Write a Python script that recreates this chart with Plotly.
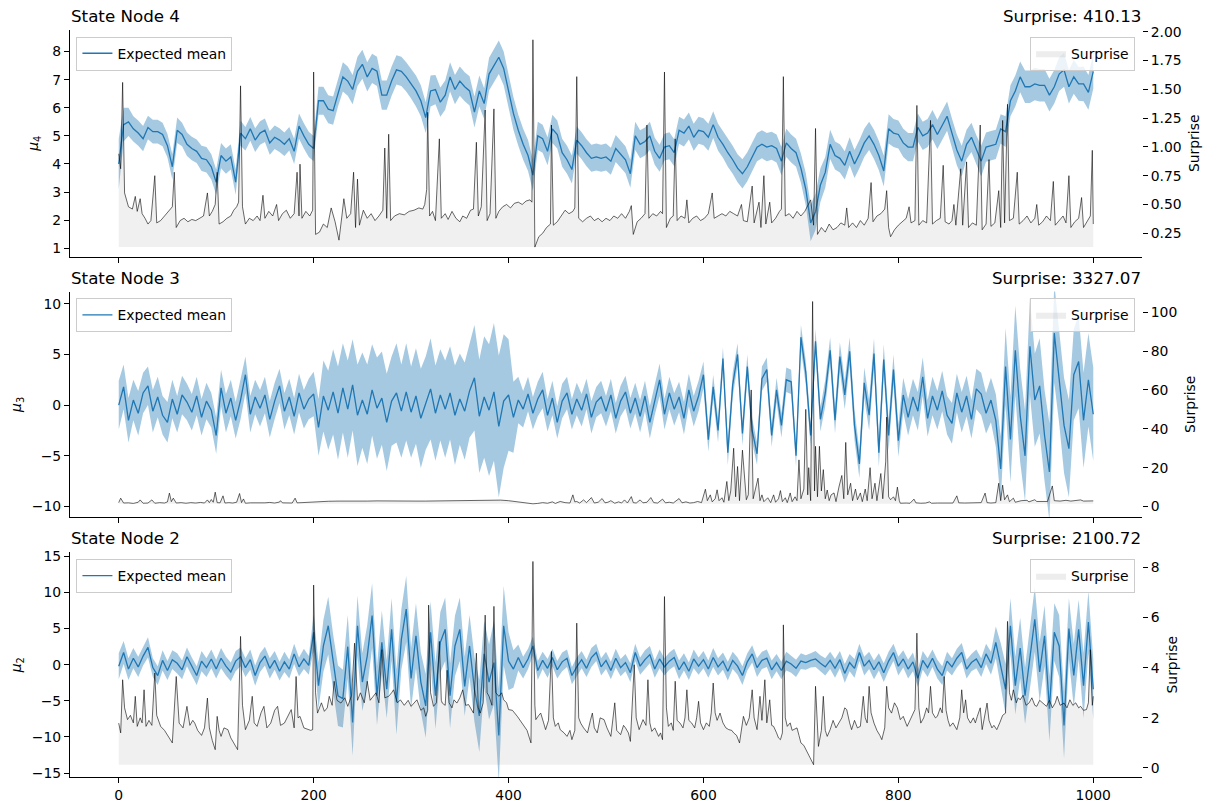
import numpy as np
import plotly.graph_objects as go
from plotly.subplots import make_subplots

steps = list(range(0, 1001, 5))

# ---- State Node 4 ----
node4_mean = [
    4.0, 5.4, 5.5, 5.25, 5.1, 4.9, 5.3, 5.15, 5.15, 5.05,
    4.65, 3.9, 5.2, 5.05, 4.7, 4.55, 4.45, 4.2, 4.15, 3.9,
    3.35, 4.3, 4.1, 4.25, 3.35, 5.1, 4.9, 5.25, 4.85, 5.1,
    5.2, 4.75, 4.95, 4.85, 4.7, 4.9, 4.45, 5.35, 5.0, 4.7,
    4.55, 6.25, 6.25, 5.95, 5.9, 6.55, 7.1, 6.95, 6.65, 7.3,
    7.55, 7.1, 7.4, 7.3, 6.45, 6.45, 6.95, 7.35, 7.3, 7.1,
    6.85, 6.6, 6.25, 5.65, 6.6, 6.65, 6.2, 6.45, 7.1, 6.65,
    6.95, 6.75, 6.6, 5.85, 6.6, 6.15, 7.2, 7.5, 7.8, 7.4,
    6.6, 5.8, 5.2, 4.7, 4.3, 3.6, 5.0, 4.9, 4.45, 5.25,
    5.05, 4.4, 4.15, 3.8, 4.85, 4.65, 4.4, 4.2, 4.25, 4.2,
    4.25, 4.1, 4.55, 4.35, 4.15, 3.65, 5.0, 4.7, 4.8, 5.0,
    4.45, 4.2, 4.6, 4.65, 4.4, 5.2, 5.1, 5.35, 4.95, 5.2,
    5.15, 4.95, 5.4, 4.95, 4.7, 4.4, 4.15, 3.85, 3.65, 3.9,
    4.25, 4.6, 4.7, 4.6, 4.65, 4.55, 4.1, 4.75, 4.55, 4.4,
    3.85, 3.1, 1.9, 2.3, 3.25, 3.7, 4.7, 4.3, 4.2, 3.95,
    4.45, 4.0, 4.35, 4.75, 5.0, 4.7, 4.3, 3.75, 5.25, 5.1,
    5.05, 4.75, 4.6, 4.6, 5.3, 5.0, 5.1, 5.4, 5.05, 5.4,
    5.7, 5.1, 4.5, 4.1, 4.7, 4.95, 4.5, 4.1, 4.6, 4.65,
    4.7, 5.25, 5.15, 6.25, 6.6, 7.1, 6.75, 6.75, 6.85, 6.8,
    6.8, 6.45, 6.75, 7.2, 7.35, 6.75, 7.1, 6.85, 6.85, 6.55,
    7.3,
]
node4_sd = [
    0.9, 0.6, 0.5, 0.45, 0.45, 0.45, 0.42, 0.42, 0.42, 0.42,
    0.42, 0.45, 0.45, 0.42, 0.42, 0.42, 0.42, 0.45, 0.45, 0.45,
    0.45, 0.45, 0.45, 0.45, 0.45, 0.45, 0.42, 0.42, 0.42, 0.42,
    0.42, 0.42, 0.42, 0.42, 0.42, 0.42, 0.45, 0.45, 0.45, 0.45,
    0.45, 0.5, 0.5, 0.5, 0.5, 0.5, 0.52, 0.52, 0.52, 0.52,
    0.52, 0.52, 0.52, 0.52, 0.52, 0.52, 0.52, 0.52, 0.52, 0.52,
    0.52, 0.55, 0.55, 0.55, 0.55, 0.52, 0.52, 0.52, 0.52, 0.52,
    0.52, 0.52, 0.52, 0.55, 0.55, 0.55, 0.58, 0.58, 0.6, 0.6,
    0.6, 0.58, 0.55, 0.55, 0.55, 0.55, 0.5, 0.5, 0.5, 0.5,
    0.5, 0.5, 0.5, 0.5, 0.48, 0.48, 0.48, 0.48, 0.48, 0.48,
    0.48, 0.48, 0.48, 0.48, 0.48, 0.5, 0.5, 0.5, 0.5, 0.5,
    0.48, 0.48, 0.48, 0.48, 0.48, 0.48, 0.48, 0.48, 0.48, 0.48,
    0.48, 0.48, 0.48, 0.48, 0.48, 0.5, 0.5, 0.5, 0.52, 0.52,
    0.5, 0.5, 0.5, 0.5, 0.5, 0.5, 0.5, 0.5, 0.5, 0.5,
    0.52, 0.58, 0.65, 0.65, 0.6, 0.55, 0.52, 0.5, 0.5, 0.5,
    0.5, 0.5, 0.5, 0.5, 0.5, 0.52, 0.52, 0.55, 0.52, 0.5,
    0.5, 0.5, 0.5, 0.5, 0.5, 0.5, 0.5, 0.52, 0.52, 0.52,
    0.52, 0.52, 0.55, 0.55, 0.52, 0.52, 0.52, 0.55, 0.52, 0.52,
    0.52, 0.52, 0.55, 0.55, 0.55, 0.55, 0.58, 0.58, 0.58, 0.58,
    0.58, 0.58, 0.6, 0.6, 0.6, 0.6, 0.6, 0.6, 0.62, 0.62,
    0.62,
]
# (trial, surprise), spikes included
node4_surprise = [
    (0, 0.94), (2, 0.81), (4, 1.56), (6, 0.60), (10, 0.48), (14, 0.46), (17, 0.57), (19, 0.44),
    (22, 0.55), (24, 0.42), (27, 0.38), (30, 0.33), (33, 0.36), (37, 0.75), (39, 0.34), (43, 0.36),
    (47, 0.40), (51, 0.44), (55, 0.48), (57, 0.78), (59, 0.30), (63, 0.36), (67, 0.38), (71, 0.35),
    (75, 0.37), (79, 0.36), (83, 0.38), (87, 0.40), (91, 0.60), (93, 0.40), (96, 0.44), (99, 0.50),
    (101, 0.78), (103, 0.33), (107, 0.35), (111, 0.38), (115, 0.40), (118, 0.45), (121, 0.48),
    (123, 0.52), (125, 1.53), (127, 0.48), (130, 0.33), (134, 0.38), (138, 0.36), (142, 0.40),
    (145, 0.36), (148, 0.58), (150, 0.38), (154, 0.44), (158, 0.40), (162, 0.50), (164, 0.36),
    (168, 0.42), (172, 0.45), (176, 0.38), (180, 0.42), (183, 0.78), (185, 0.40), (186, 0.85),
    (188, 0.38), (192, 0.44), (196, 0.40), (199, 0.45), (200, 1.65), (202, 0.24), (206, 0.26),
    (210, 0.33), (214, 0.30), (218, 0.47), (222, 0.35), (226, 0.19), (229, 0.40), (231, 0.55),
    (234, 0.38), (238, 0.42), (241, 0.78), (243, 0.30), (245, 0.72), (247, 0.32), (251, 0.45),
    (255, 0.38), (259, 0.42), (263, 0.36), (267, 0.40), (271, 0.45), (273, 0.99), (275, 0.38),
    (277, 1.11), (279, 0.36), (283, 0.40), (288, 0.42), (293, 0.41), (298, 0.44), (303, 0.45),
    (308, 0.47), (312, 0.46), (314, 0.50), (316, 0.63), (317, 1.30), (319, 0.40), (322, 0.44),
    (325, 0.36), (329, 1.07), (331, 0.38), (335, 0.42), (338, 0.37), (342, 0.44), (346, 0.38),
    (350, 0.35), (353, 0.40), (357, 0.38), (361, 0.45), (364, 0.46), (367, 1.04), (369, 0.40),
    (372, 0.48), (376, 1.32), (378, 0.36), (381, 0.42), (385, 1.33), (387, 0.38), (390, 0.44),
    (394, 0.48), (398, 0.50), (402, 0.47), (406, 0.51), (410, 0.52), (414, 0.50), (418, 0.53),
    (422, 0.54), (424, 0.52), (425, 1.93), (427, 0.13), (431, 0.22), (435, 0.25), (439, 0.30),
    (443, 0.33), (444, 1.19), (446, 0.32), (450, 0.35), (454, 0.40), (458, 0.45), (462, 0.42),
    (466, 0.44), (468, 0.47), (470, 1.61), (472, 0.38), (476, 0.35), (480, 0.38), (484, 0.40),
    (488, 0.36), (492, 0.38), (496, 0.35), (500, 0.38), (504, 0.36), (508, 0.40), (512, 0.38),
    (516, 0.42), (520, 0.38), (524, 0.44), (526, 0.49), (528, 0.24), (532, 0.35), (536, 0.38),
    (540, 0.42), (542, 1.19), (544, 0.38), (548, 0.42), (552, 0.40), (556, 0.44), (558, 0.42),
    (560, 1.65), (562, 0.30), (566, 0.38), (569, 0.40), (571, 1.07), (573, 0.36), (577, 0.40),
    (581, 0.38), (583, 0.54), (585, 0.34), (589, 0.38), (593, 0.40), (597, 0.36), (601, 0.38),
    (605, 0.42), (609, 0.60), (611, 0.38), (615, 0.40), (619, 0.42), (623, 0.40), (627, 0.44),
    (631, 0.42), (635, 0.40), (639, 0.50), (641, 0.36), (645, 0.35), (650, 0.66), (652, 0.34),
    (657, 0.52), (659, 0.30), (662, 0.75), (664, 0.33), (668, 0.52), (670, 0.34), (674, 0.38),
    (678, 0.44), (680, 0.46), (682, 1.61), (684, 0.40), (688, 0.42), (692, 0.38), (696, 0.44),
    (700, 0.40), (704, 0.44), (708, 0.50), (710, 0.54), (713, 0.32), (715, 1.16), (717, 0.24),
    (721, 0.30), (725, 0.26), (729, 0.33), (733, 0.28), (737, 0.30), (741, 0.34), (745, 0.32),
    (747, 0.47), (749, 0.30), (753, 0.34), (757, 0.30), (761, 0.36), (765, 0.32), (769, 0.38),
    (772, 0.69), (774, 0.35), (778, 0.40), (782, 0.42), (786, 0.46), (788, 0.62), (790, 0.30),
    (792, 0.22), (796, 0.28), (800, 0.32), (804, 0.35), (808, 0.38), (811, 0.48), (813, 0.34),
    (817, 0.36), (819, 1.36), (821, 0.32), (825, 0.36), (829, 0.34), (833, 1.23), (835, 0.33),
    (839, 0.36), (843, 0.38), (846, 0.84), (848, 0.35), (852, 0.33), (855, 0.36), (857, 0.50),
    (859, 0.32), (864, 0.81), (866, 0.32), (870, 0.87), (872, 0.30), (876, 0.34), (880, 0.32),
    (884, 1.19), (886, 0.28), (890, 0.33), (893, 0.89), (895, 0.31), (899, 0.34), (903, 0.62),
    (905, 0.30), (907, 1.23), (909, 0.34), (912, 1.37), (914, 0.36), (918, 0.38), (922, 0.78),
    (924, 0.33), (928, 0.36), (932, 0.40), (936, 0.34), (940, 0.38), (942, 0.50), (944, 0.32),
    (948, 0.35), (952, 0.40), (956, 0.36), (959, 0.70), (961, 0.32), (965, 0.36), (969, 0.40),
    (972, 0.34), (975, 0.75), (977, 0.30), (981, 0.35), (985, 0.38), (988, 0.56), (990, 0.30),
    (994, 0.36), (997, 0.40), (999, 0.97), (1000, 0.33),
]

# ---- State Node 3 ----
node3_mean = [
    0.0, 1.8, -1.5, 0.5, -0.8, 1.2, 1.9, -0.6, 0.8, -1.0,
    -1.7, 0.6, -0.9, 1.0, 0.3, -0.7, 0.9, -1.2, 0.4, -0.5,
    -3.0, 1.7, -0.8, 0.7, -1.5, 0.5, 3.0, -0.9, 0.8, -0.3,
    1.0, -1.4, 0.4, 1.9, -0.6, 0.8, -1.1, 1.2, -0.4, 0.6,
    1.1, -2.2, 0.9, -0.5, 1.3, -0.8, 1.7, -0.4, 2.0, -1.0,
    0.5, -0.9, 1.5, -0.3, 0.7, -1.7, 0.4, 1.2, -0.6, 1.3,
    -0.7, 0.9, -1.3, 0.2, 1.6, -0.8, 1.0, -0.4, 1.2, -1.0,
    0.6, -0.6, 1.4, 2.7, -1.1, 0.8, -0.5, 1.3, -2.1, 0.4,
    1.0, -1.2, 0.5, -0.4, 1.1, -0.8, 0.6, 1.5, -1.0, 0.7,
    -1.7, 0.4, 1.2, -0.9, 0.6, -0.5, 1.1, -1.2, 0.3, 0.8,
    -0.6, 1.0, -1.3, 0.4, 1.3, -0.8, 0.7, -1.1, 0.9, -1.7,
    0.5, 2.5, -0.9, 1.2, -0.4, 0.8, -1.3, 1.5, -0.6, 0.9,
    3.0, -3.4, 1.8, -2.5, 4.6, -4.7, 2.0, 5.0, -2.8, 3.8,
    -2.5, -4.8, 2.6, 3.5, -3.0, 1.5, -2.0, 2.5, 2.3, -5.0,
    6.7, 3.2, -3.0, 6.3, -1.4, 1.2, 5.4, -1.5, 4.8, 1.0,
    5.3, -2.0, -5.8, 2.2, -1.0, 5.1, -4.7, 4.5, -3.0, 3.5,
    -3.5, 1.0, -1.2, 0.8, -0.6, 2.8, -1.3, 0.9, -0.5, 1.4,
    -1.0, -1.8, 1.2, -0.7, 0.9, -1.4, 1.6, 1.1, -0.8, 0.5,
    -1.5, -6.3, 3.8, -3.4, 5.4, -1.0, -5.0, 5.8, 0.5, 1.9,
    -3.0, -6.6, 7.1, 2.8, -2.0, -4.3, 3.0, 4.3, -1.5, 2.5,
    -0.9,
]
node3_sd = [
    2.4, 2.2, 2.2, 2.0, 2.2, 2.0, 1.9, 2.1, 2.0, 1.9,
    2.0, 1.9, 1.8, 1.9, 1.8, 1.8, 1.9, 1.8, 1.8, 1.7,
    1.8, 1.8, 1.9, 1.8, 1.8, 1.9, 1.8, 1.8, 1.7, 1.8,
    1.8, 1.8, 1.8, 1.7, 1.8, 1.8, 1.8, 1.9, 1.9, 2.0,
    2.2, 2.8, 3.5, 3.9, 4.2, 4.6, 4.4, 4.8, 4.5, 5.0,
    4.7, 4.9, 4.5, 5.0, 4.6, 4.8, 4.4, 4.9, 4.6, 4.8,
    4.5, 4.7, 4.9, 4.6, 5.0, 4.7, 4.5, 4.8, 4.6, 4.9,
    4.5, 4.8, 4.6, 5.2, 5.6, 6.0, 6.5, 6.8, 7.0, 6.6,
    5.5, 3.5, 2.3, 1.8, 1.7, 1.6, 1.7, 1.8, 1.6, 1.7,
    1.6, 1.7, 1.6, 1.5, 1.6, 1.6, 1.5, 1.6, 1.5, 1.6,
    1.5, 1.6, 1.5, 1.5, 1.6, 1.5, 1.5, 1.6, 1.5, 1.6,
    1.5, 1.6, 1.5, 1.6, 1.6, 1.5, 1.6, 1.6, 1.5, 1.5,
    1.3, 1.2, 1.2, 1.2, 1.1, 1.2, 1.2, 1.1, 1.2, 1.2,
    1.2, 1.1, 1.2, 1.2, 1.1, 1.2, 1.2, 1.2, 1.2, 1.1,
    1.2, 1.2, 1.1, 1.2, 1.2, 1.3, 1.3, 1.3, 1.4, 1.4,
    1.4, 1.5, 1.4, 1.5, 1.5, 1.5, 1.4, 1.5, 1.5, 1.5,
    1.6, 1.7, 1.8, 1.8, 1.9, 1.9, 1.8, 1.9, 1.9, 2.0,
    1.9, 2.0, 1.9, 2.0, 2.0, 1.9, 2.0, 2.1, 2.0, 2.2,
    2.6, 3.2, 3.8, 4.2, 4.4, 4.6, 4.5, 4.8, 4.6, 4.7,
    4.5, 4.8, 4.9, 4.6, 4.7, 4.8, 4.5, 4.6, 4.7, 4.6,
    4.6,
]
node3_surprise = [
    (0, 2.0), (2, 4.3), (5, 1.8), (10, 1.9), (15, 1.6), (20, 2.2), (22, 3.4), (25, 1.7), (30, 1.8),
    (34, 3.4), (37, 1.7), (42, 2.0), (47, 1.8), (50, 2.4), (52, 6.9), (54, 2.5), (56, 4.3), (59, 1.8),
    (64, 2.0), (69, 1.7), (74, 2.0), (79, 1.8), (84, 2.1), (88, 1.8), (91, 3.4), (93, 2.0), (95, 3.6),
    (97, 2.2), (99, 7.4), (101, 2.0), (104, 1.9), (107, 5.5), (109, 1.8), (113, 2.0), (117, 1.8),
    (121, 2.2), (124, 6.7), (126, 2.0), (128, 3.9), (130, 1.7), (135, 1.9), (140, 1.8), (145, 2.0),
    (150, 1.9), (155, 2.1), (160, 1.8), (165, 2.3), (166, 3.0), (168, 1.9), (173, 2.0), (178, 1.8),
    (181, 4.3), (183, 1.9), (188, 2.0), (193, 2.2), (198, 2.4), (205, 2.6), (215, 2.7), (225, 2.8),
    (235, 2.7), (245, 2.8), (255, 2.8), (265, 2.9), (275, 2.8), (285, 2.9), (295, 2.9), (305, 2.8),
    (315, 2.8), (325, 2.9), (335, 2.9), (345, 2.8), (355, 2.9), (365, 3.0), (375, 3.1), (385, 3.3),
    (392, 3.3), (400, 3.0), (408, 2.6), (415, 2.2), (420, 1.8), (425, 1.4), (430, 1.6), (435, 2.0),
    (440, 1.7), (445, 2.4), (448, 1.6), (453, 2.6), (458, 2.0), (463, 1.8), (466, 6.0), (468, 2.4),
    (470, 2.6), (473, 1.8), (477, 3.4), (480, 2.0), (485, 4.6), (488, 1.8), (492, 2.2), (496, 4.1),
    (499, 1.9), (502, 2.2), (505, 3.0), (509, 1.7), (513, 2.4), (516, 1.8), (519, 3.4), (522, 1.8),
    (526, 5.1), (528, 2.0), (531, 1.8), (535, 3.4), (538, 1.9), (542, 2.2), (546, 4.6), (549, 2.0),
    (553, 1.8), (558, 3.8), (561, 1.9), (565, 2.2), (569, 1.8), (575, 4.1), (578, 1.9), (582, 2.4),
    (586, 1.8), (590, 2.0), (594, 2.6), (598, 2.0), (602, 8.9), (604, 3.0), (607, 6.0), (609, 2.4),
    (612, 4.0), (614, 8.6), (616, 3.0), (619, 4.5), (621, 2.2), (624, 12.9), (626, 3.0), (628, 8.0),
    (631, 30.0), (633, 5.0), (635, 20.6), (637, 3.0), (640, 29.0), (642, 15.0), (644, 3.5),
    (646, 6.0), (649, 60.0), (651, 4.0), (653, 8.0), (656, 14.6), (658, 3.0), (660, 6.0), (662, 2.5),
    (666, 4.5), (669, 2.0), (672, 6.0), (674, 2.2), (677, 4.0), (679, 8.2), (681, 2.5), (684, 4.5),
    (686, 2.0), (689, 7.0), (691, 2.5), (694, 5.0), (696, 3.0), (698, 24.0), (700, 4.0), (703, 9.0),
    (705, 50.0), (707, 6.0), (708, 20.0), (710, 3.0), (712, 105.5), (714, 8.0), (715, 31.0),
    (717, 5.0), (719, 31.0), (721, 8.0), (723, 19.0), (725, 4.0), (727, 8.5), (729, 3.0), (731, 6.0),
    (734, 7.0), (736, 2.5), (739, 10.0), (742, 16.0), (744, 4.0), (746, 33.0), (748, 6.0),
    (751, 12.0), (753, 3.0), (756, 9.0), (758, 3.5), (761, 7.0), (763, 2.5), (766, 9.0), (768, 3.0),
    (771, 20.0), (773, 4.0), (776, 12.0), (778, 3.0), (782, 17.0), (784, 4.0), (787, 23.0),
    (788, 46.0), (790, 5.0), (792, 3.5), (795, 5.0), (797, 3.0), (799, 10.0), (801, 3.0), (802, 1.7),
    (808, 1.8), (812, 1.7), (816, 3.8), (818, 1.9), (823, 1.7), (828, 1.8), (832, 2.4), (834, 1.7),
    (840, 1.8), (846, 1.7), (850, 1.9), (856, 1.8), (860, 5.5), (862, 1.9), (868, 1.8), (874, 1.9),
    (880, 1.8), (885, 2.0), (889, 6.9), (891, 2.0), (895, 1.8), (900, 2.0), (903, 12.0), (905, 3.0),
    (907, 11.0), (909, 3.5), (912, 6.0), (914, 2.5), (918, 4.3), (920, 2.2), (926, 3.0), (932, 3.2),
    (934, 2.4), (940, 3.5), (942, 2.6), (948, 2.8), (953, 2.6), (958, 10.6), (960, 3.0), (966, 2.8),
    (972, 3.2), (977, 2.8), (982, 3.0), (987, 3.4), (990, 2.8), (995, 3.0), (1000, 2.9),
]

# ---- State Node 2 ----
node2_mean = [
    -0.2, 1.7, -0.6, 0.9, -0.3, 1.2, 2.4, -0.4, -1.5, 0.6,
    -0.8, 0.7, 0.2, -0.7, 1.1, -0.3, -1.5, 0.5, -0.4, 0.8,
    -0.6, 0.9, -0.2, -1.0, 0.5, 1.1, -0.4, 0.7, -1.5, 0.3,
    1.2, -0.5, 0.6, -0.9, 0.4, -0.6, 1.5, -0.3, 0.8, -0.1,
    4.5, -2.9, 2.6, 5.4, 0.4, -4.3, -4.7, 2.5, -8.0, 5.4,
    -2.4, 1.2, 6.8, -4.3, 3.1, -3.4, 4.9, -5.2, 3.5, 7.7,
    -1.9, 4.0, -2.4, -5.7, 4.5, -4.3, 3.1, 4.9, -4.3, 2.6,
    4.9, -3.0, 2.6, -3.4, -7.1, 1.5, -2.4, 0.3, -9.8, 5.4,
    0.5, -0.6, 1.0, -0.4, 0.8, 2.6, -0.8, 0.6, -0.5, 1.0,
    -0.7, 0.4, 0.9, -1.5, -0.3, 0.7, -0.5, 1.0, 1.7, -0.3,
    0.6, -0.8, 0.9, -0.4, 0.3, -1.1, 1.7, -0.2, 0.7, 1.4,
    -0.6, 0.8, -0.3, 0.5, 1.0, -0.7, 0.4, -0.9, 0.8, -0.2,
    0.7, -0.6, 1.0, -0.3, 0.5, -0.9, 0.6, -0.2, -1.5, 0.4,
    1.5, -0.4, 0.6, 0.9, -0.7, 0.3, -0.8, 0.5, 0.1, -0.5,
    0.5, 0.3, 0.6, 0.8, 0.2, -0.3, 0.6, -0.5, 0.7, -1.2,
    0.3, -0.5, 1.7, -0.2, 0.6, -0.7, 0.4, -1.1, 0.5, 1.7,
    -0.2, 0.8, -0.6, 0.4, -1.9, 0.6, -0.4, 0.9, -0.6, -1.5,
    0.5, -0.3, 0.9, 1.7, -0.6, 0.3, 0.8, -0.4, 1.5, 0.2,
    3.1, 0.0, -3.4, 5.4, -2.9, 2.3, -4.3, 1.0, 6.3, -1.0,
    4.0, -6.1, 4.5, 2.6, -8.4, 5.0, -1.5, 4.9, -2.9, 5.9,
    -3.4,
]
node2_sd = [
    1.8, 1.6, 1.5, 1.4, 1.4, 1.3, 1.4, 1.3, 1.3, 1.4,
    1.3, 1.3, 1.4, 1.3, 1.3, 1.3, 1.3, 1.4, 1.3, 1.3,
    1.3, 1.4, 1.3, 1.3, 1.4, 1.3, 1.3, 1.4, 1.4, 1.3,
    1.3, 1.4, 1.3, 1.3, 1.4, 1.3, 1.4, 1.3, 1.4, 1.3,
    2.5, 3.2, 3.6, 4.0, 3.8, 4.2, 4.0, 4.4, 4.6, 4.2,
    4.0, 4.3, 4.5, 4.1, 4.4, 4.0, 4.3, 4.5, 4.2, 4.6,
    4.2, 4.5, 4.1, 4.4, 4.3, 4.6, 4.2, 4.4, 4.5, 4.2,
    4.4, 4.1, 4.3, 4.5, 5.0, 4.6, 5.2, 5.8, 6.5, 5.5,
    4.0, 2.6, 1.8, 1.5, 1.4, 1.3, 1.3, 1.2, 1.3, 1.2,
    1.2, 1.3, 1.2, 1.2, 1.3, 1.2, 1.2, 1.3, 1.2, 1.2,
    1.2, 1.2, 1.3, 1.2, 1.2, 1.3, 1.2, 1.2, 1.3, 1.2,
    1.2, 1.3, 1.2, 1.2, 1.2, 1.3, 1.2, 1.2, 1.3, 1.2,
    1.2, 1.2, 1.3, 1.2, 1.2, 1.3, 1.2, 1.2, 1.3, 1.2,
    1.2, 1.3, 1.2, 1.2, 1.3, 1.2, 1.2, 1.3, 1.2, 1.2,
    1.1, 1.0, 1.0, 1.1, 1.1, 1.2, 1.2, 1.3, 1.2, 1.3,
    1.2, 1.3, 1.2, 1.3, 1.2, 1.3, 1.2, 1.3, 1.3, 1.2,
    1.3, 1.2, 1.3, 1.3, 1.2, 1.3, 1.3, 1.2, 1.3, 1.3,
    1.3, 1.2, 1.3, 1.3, 1.3, 1.2, 1.3, 1.3, 1.4, 1.6,
    2.2, 3.0, 3.5, 3.8, 4.0, 4.2, 3.9, 4.3, 4.5, 4.1,
    4.2, 4.5, 4.0, 4.3, 4.6, 4.2, 4.4, 4.1, 4.5, 4.3,
    4.2,
]
node2_surprise = [
    (0, 1.79), (2, 1.40), (4, 3.52), (6, 2.40), (9, 1.93), (12, 2.1), (15, 1.8), (17, 2.86),
    (19, 1.66), (22, 2.0), (24, 1.8), (26, 3.12), (28, 1.66), (31, 1.9), (34, 1.7), (37, 3.79),
    (39, 2.1), (43, 1.66), (47, 1.5), (50, 1.3), (53, 1.13), (55, 1.0), (59, 3.65), (62, 1.79),
    (66, 1.6), (70, 2.46), (73, 1.7), (76, 1.9), (78, 1.79), (81, 1.5), (85, 1.3), (88, 1.6),
    (91, 2.79), (93, 1.6), (96, 1.1), (99, 0.73), (101, 2.06), (103, 1.5), (105, 1.26), (108, 1.6),
    (112, 1.53), (115, 1.2), (118, 1.0), (120, 0.86), (122, 0.73), (125, 5.25), (127, 2.5),
    (130, 1.53), (134, 1.9), (137, 2.86), (139, 1.8), (142, 1.66), (146, 2.2), (149, 2.46),
    (152, 1.6), (156, 1.79), (160, 2.3), (163, 2.46), (166, 1.7), (170, 1.79), (173, 2.0),
    (177, 2.33), (180, 1.6), (182, 3.65), (184, 2.0), (186, 2.06), (190, 1.6), (194, 1.53),
    (197, 1.5), (199, 1.53), (200, 7.3), (202, 3.0), (204, 2.19), (208, 2.6), (211, 2.26),
    (214, 2.4), (216, 2.86), (219, 2.5), (221, 3.46), (224, 2.7), (228, 2.59), (232, 2.8),
    (235, 2.46), (239, 2.9), (242, 4.98), (245, 2.7), (248, 3.0), (252, 2.6), (255, 3.46),
    (258, 2.7), (260, 2.79), (264, 3.0), (267, 2.6), (270, 4.72), (273, 2.8), (277, 2.86),
    (280, 3.0), (282, 3.12), (286, 2.6), (289, 2.72), (293, 2.5), (297, 2.7), (300, 2.46),
    (303, 2.6), (306, 2.72), (310, 2.3), (313, 2.4), (315, 2.06), (317, 2.3), (318, 6.5),
    (320, 3.0), (323, 2.46), (326, 2.6), (329, 5.05), (331, 2.7), (332, 2.59), (335, 2.5),
    (337, 3.9), (339, 2.6), (342, 2.4), (344, 2.72), (347, 2.59), (350, 2.8), (353, 3.12),
    (356, 2.5), (359, 2.53), (362, 2.3), (364, 2.19), (367, 4.58), (369, 2.4), (371, 2.19),
    (374, 2.6), (376, 6.1), (378, 3.0), (380, 2.86), (383, 2.5), (385, 6.45), (387, 3.0),
    (390, 2.86), (393, 3.0), (395, 2.72), (398, 2.6), (400, 2.33), (404, 2.3), (409, 2.06),
    (412, 1.9), (416, 1.66), (419, 1.5), (423, 1.0), (425, 8.24), (427, 2.5), (428, 1.93),
    (431, 2.1), (433, 2.19), (436, 1.8), (438, 1.53), (441, 1.9), (444, 4.65), (446, 2.0),
    (448, 1.66), (451, 1.8), (453, 1.53), (457, 1.4), (460, 1.26), (463, 1.5), (465, 1.13),
    (468, 1.5), (470, 5.78), (472, 2.0), (474, 1.79), (477, 1.6), (481, 1.40), (484, 1.9),
    (486, 2.19), (488, 1.6), (491, 1.40), (494, 2.0), (498, 1.93), (501, 1.6), (505, 1.26),
    (509, 2.6), (511, 1.5), (515, 1.33), (518, 1.7), (520, 1.6), (523, 1.4), (525, 1.06),
    (529, 4.12), (531, 2.0), (534, 1.53), (538, 1.93), (541, 1.7), (543, 3.52), (545, 1.8),
    (547, 1.46), (550, 1.6), (554, 1.26), (556, 1.4), (558, 1.13), (560, 6.84), (562, 2.4),
    (564, 1.66), (567, 1.8), (569, 1.5), (571, 3.46), (573, 1.9), (576, 1.79), (579, 1.6),
    (581, 2.0), (583, 3.12), (585, 1.9), (588, 1.79), (591, 1.6), (593, 2.0), (595, 2.66),
    (597, 1.8), (600, 1.53), (603, 1.8), (606, 1.66), (608, 2.2), (610, 3.39), (612, 2.2),
    (614, 1.9), (617, 2.19), (620, 1.8), (623, 1.6), (626, 1.53), (629, 1.5), (631, 1.40),
    (634, 1.3), (637, 1.0), (639, 1.6), (641, 2.06), (644, 1.7), (647, 2.0), (650, 3.12),
    (652, 2.0), (655, 1.53), (658, 2.86), (660, 1.9), (663, 3.52), (665, 1.8), (668, 2.72),
    (670, 1.7), (672, 1.66), (675, 1.4), (677, 1.2), (679, 1.13), (681, 1.4), (682, 5.71),
    (684, 2.0), (686, 1.66), (689, 1.8), (691, 1.5), (693, 1.53), (696, 1.6), (698, 1.3),
    (700, 1.0), (703, 0.9), (706, 0.66), (709, 0.45), (711, 0.3), (713, 0.13), (715, 3.26),
    (717, 1.2), (718, 0.86), (721, 1.5), (723, 2.86), (725, 1.5), (727, 1.26), (730, 1.53),
    (733, 1.9), (736, 1.6), (739, 1.79), (742, 2.0), (745, 2.4), (747, 2.33), (750, 1.8),
    (752, 1.53), (755, 1.9), (758, 1.6), (761, 1.66), (764, 2.86), (766, 2.0), (768, 1.8),
    (770, 3.26), (772, 2.2), (775, 1.79), (778, 1.5), (781, 1.3), (783, 1.13), (786, 1.6),
    (788, 3.26), (790, 2.4), (793, 2.19), (796, 2.6), (799, 2.4), (802, 1.93), (805, 2.06),
    (809, 1.66), (812, 1.9), (815, 2.2), (817, 2.33), (819, 5.38), (821, 2.4), (823, 1.79),
    (826, 2.0), (829, 2.4), (831, 2.2), (833, 3.26), (835, 2.2), (838, 2.0), (840, 2.06),
    (843, 2.4), (845, 2.2), (847, 3.65), (849, 2.3), (851, 1.9), (853, 1.66), (856, 1.8),
    (860, 1.53), (863, 2.0), (865, 3.12), (867, 2.2), (869, 2.72), (871, 2.0), (874, 1.79),
    (877, 2.0), (879, 1.8), (881, 2.06), (884, 2.4), (886, 1.53), (888, 1.9), (891, 2.59),
    (893, 1.9), (896, 1.6), (898, 1.7), (901, 1.53), (904, 1.8), (907, 2.1), (910, 2.19),
    (912, 5.85), (914, 3.0), (916, 2.7), (918, 3.12), (921, 2.6), (923, 2.8), (925, 2.72),
    (928, 2.9), (931, 2.5), (934, 2.59), (937, 2.8), (940, 2.5), (942, 2.46), (945, 2.7),
    (948, 2.6), (952, 2.46), (955, 2.7), (958, 2.4), (961, 2.6), (963, 2.86), (966, 2.5),
    (970, 2.59), (973, 2.4), (976, 2.72), (979, 2.5), (982, 2.6), (985, 2.4), (987, 2.46),
    (990, 2.3), (993, 2.33), (995, 2.6), (997, 4.72), (999, 2.5), (1000, 2.86),
]

titles = ["State Node 4", "State Node 3", "State Node 2"]
total_surprise = ["410.13", "3327.07", "2100.72"]
y_labels = ["<i>μ</i><sub>4</sub>", "<i>μ</i><sub>3</sub>", "<i>μ</i><sub>2</sub>"]
left_ticks = [[1, 2, 3, 4, 5, 6, 7, 8], [-10, -5, 0, 5, 10], [-15, -10, -5, 0, 5, 10, 15]]
right_ticks = [[0.25, 0.5, 0.75, 1.0, 1.25, 1.5, 1.75, 2.0], [0, 20, 40, 60, 80, 100], [0, 2, 4, 6, 8]]
right_fmt = [".2f", "d", "d"]
x_ticks = [0, 200, 400, 600, 800, 1000]

panels = [
    (node4_mean, node4_sd, node4_surprise),
    (node3_mean, node3_sd, node3_surprise),
    (node2_mean, node2_sd, node2_surprise),
]

# axis layout (pixel-matched to the reference; page body adds 8px offset)
left_ranges = [[0.70, 8.77], [-11.05, 11.2], [-15.55, 15.55]]
right_ranges = [[0.047, 2.015], [-5.45, 110.6], [-0.36, 8.6]]
domains = [[0.6966, 1.0], [0.3479, 0.6498], [0.0, 0.3006]]

FONT = "DejaVu Sans"
BLUE = "#1f77b4"
GREY_FILL = "rgba(128,128,128,0.12)"

fig = make_subplots(rows=3, cols=1, shared_xaxes=True,
                    specs=[[{"secondary_y": True}]] * 3)

for i, (mean, sd, pts) in enumerate(panels):
    row = i + 1
    m = np.array(mean)
    s = np.array(sd)
    leg_mean = "legend" if i == 0 else f"legend{2 * i + 1}"
    leg_surp = f"legend{2 * i + 2}"

    fig.add_trace(go.Scatter(x=steps, y=m - s, mode="lines", line=dict(width=0),
                             showlegend=False, hoverinfo="skip"),
                  row=row, col=1, secondary_y=False)
    fig.add_trace(go.Scatter(x=steps, y=m + s, mode="lines", line=dict(width=0),
                             fill="tonexty", fillcolor="rgba(31,119,180,0.4)",
                             showlegend=False, hoverinfo="skip"),
                  row=row, col=1, secondary_y=False)
    fig.add_trace(go.Scatter(x=steps, y=m, mode="lines", line=dict(color=BLUE, width=1.3),
                             name="Expected mean", legend=leg_mean),
                  row=row, col=1, secondary_y=False)

    t, v = zip(*pts)
    base = min(v)
    fig.add_trace(go.Scatter(x=[t[0], t[-1]], y=[base, base], mode="lines",
                             line=dict(width=0), showlegend=False, hoverinfo="skip"),
                  row=row, col=1, secondary_y=True)
    fig.add_trace(go.Scatter(x=list(t), y=list(v), mode="lines",
                             line=dict(color="rgba(0,0,0,0.85)", width=0.7),
                             fill="tonexty", fillcolor=GREY_FILL, showlegend=False),
                  row=row, col=1, secondary_y=True)
    # legend patch only
    fig.add_trace(go.Scatter(x=[None], y=[None], mode="lines", fill="toself",
                             fillcolor="rgba(128,128,128,0.14)", line=dict(width=0),
                             name="Surprise", legend=leg_surp),
                  row=row, col=1, secondary_y=True)

    axis_common = dict(showgrid=False, zeroline=False, ticks="outside", ticklen=5,
                       tickwidth=1.1, tickcolor="black", automargin=False,
                       tickfont=dict(family=FONT, size=13.9, color="black"))
    fig.update_yaxes(range=left_ranges[i], tickvals=left_ticks[i], domain=domains[i],
                     showline=True, linecolor="black", linewidth=1.1,
                     title=dict(text=y_labels[i], font=dict(family=FONT, size=13.9, color="black"),
                                standoff=10),
                     row=row, col=1, secondary_y=False, **axis_common)
    fig.update_yaxes(range=right_ranges[i], tickvals=right_ticks[i], tickformat=right_fmt[i],
                     domain=domains[i], showline=False,
                     title=dict(text="Surprise", font=dict(family=FONT, size=13.9, color="black"),
                                standoff=8),
                     row=row, col=1, secondary_y=True, **axis_common)
    fig.update_xaxes(range=[-50, 1050], tickvals=x_ticks, showticklabels=(row == 3),
                     domain=[0, 1], showline=True, linecolor="black", linewidth=1.1,
                     row=row, col=1, **axis_common)

    top = domains[i][1]
    for text, xpos, anchor in ((titles[i], 0, "left"),
                               (f"Surprise: {total_surprise[i]}", 1, "right")):
        fig.add_annotation(text=text, xref="paper", yref="paper", x=xpos, y=top,
                           xanchor=anchor, yanchor="bottom", yshift=3, borderpad=0,
                           showarrow=False, font=dict(family=FONT, size=16.7, color="black"))

    leg_style = dict(font=dict(family=FONT, size=13.9, color="black"),
                     bgcolor="rgba(255,255,255,0.8)", bordercolor="#cccccc", borderwidth=1,
                     yanchor="top", y=top - 0.009)
    fig.update_layout({leg_mean: dict(x=0.006, xanchor="left", **leg_style),
                       leg_surp: dict(x=0.9935, xanchor="right", **leg_style)})

fig.update_layout(
    width=1203, height=803,
    margin=dict(l=61.5, r=69.3, t=22, b=33.7, autoexpand=False),
    paper_bgcolor="white", plot_bgcolor="white",
    font=dict(family=FONT, size=13.9, color="black"),
)

fig.write_html("out.html")
